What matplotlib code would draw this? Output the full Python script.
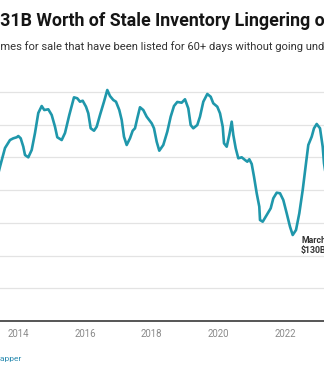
import matplotlib
matplotlib.use("Agg")
import matplotlib.pyplot as plt

# ---- data ----
years = [2013.35, 2013.451, 2013.601, 2013.751, 2013.850, 2013.952, 2014.000, 2014.072, 2014.150,
         2014.201, 2014.300, 2014.402, 2014.501, 2014.600, 2014.702, 2014.780, 2014.900,
         2015.002, 2015.101, 2015.170, 2015.302, 2015.401, 2015.530, 2015.671, 2015.770,
         2015.851, 2015.932, 2016.031, 2016.100, 2016.172, 2016.271, 2016.352, 2016.451,
         2016.571, 2016.670, 2016.751, 2016.850, 2016.931, 2017.030, 2017.102, 2017.171,
         2017.252, 2017.351, 2017.432, 2017.501, 2017.570, 2017.651, 2017.750, 2017.852,
         2018.002, 2018.071, 2018.152, 2018.230, 2018.350, 2018.470, 2018.572, 2018.671,
         2018.770, 2018.902, 2019.001, 2019.100, 2019.172, 2019.250, 2019.370, 2019.451,
         2019.551, 2019.671, 2019.772, 2019.850, 2019.970, 2020.052, 2020.133, 2020.172,
         2020.253, 2020.331, 2020.403, 2020.451, 2020.523, 2020.601, 2020.703, 2020.802,
         2020.871, 2020.931, 2021.003, 2021.072, 2021.153, 2021.231, 2021.252, 2021.333,
         2021.453, 2021.573, 2021.651, 2021.753, 2021.852, 2021.951, 2022.053, 2022.152,
         2022.233, 2022.332, 2022.431, 2022.533, 2022.632, 2022.701, 2022.803, 2022.872,
         2022.953, 2023.052, 2023.133, 2023.172, 2023.25]
values = [215, 235.6, 264.1, 276.3, 278.9, 280.5, 282.4, 278.9, 266.1,
          253.4, 249.9, 261.1, 287.0, 317.6, 328.2, 322.1, 323.2,
          314.5, 296.6, 280.5, 276.3, 287.0, 314.5, 341.5, 340.0,
          334.8, 336.3, 327.2, 317.1, 294.2, 290.5, 296.6, 314.5,
          334.8, 352.7, 343.5, 337.4, 334.8, 322.1, 306.9, 281.4,
          268.7, 278.9, 290.5, 294.2, 309.5, 326.3, 322.1, 311.9,
          301.8, 294.2, 273.7, 260.0, 268.7, 289.0, 311.9, 328.2,
          334.4, 333.3, 338.5, 324.7, 299.2, 294.2, 299.2, 311.9,
          334.8, 346.6, 342.4, 332.4, 327.2, 317.1, 296.6, 271.3,
          266.1, 284.0, 304.3, 284.0, 263.7, 248.4, 249.9, 245.8,
          243.2, 246.9, 239.7, 220.3, 195.0, 174.5, 154.2, 151.6,
          161.8, 172.1, 187.3, 195.9, 195.0, 184.7, 164.4, 144.0,
          131.3, 138.9, 164.4, 200.0, 240.8, 268.7, 281.4, 294.2,
          300.8, 294.2, 266.1, 240.8, 215]
xtick_years = [2014, 2016, 2018, 2020, 2022]
xtick_labels = ["2014", "2016", "2018", "2020", "2022"]
grid_values = [50, 100, 150, 200, 250, 300, 350]
annot_x, annot_y = 2022.233, 131.3
annot_text = "March\n$130B"

title = "$331B Worth of Stale Inventory Lingering on the Market"
title_hidden = "$3"
subtitle = ("Homes for sale that have been listed for 60+ days without going under contract,\n"
            "($)")
subtitle_hidden = "Ho"
source = "Source: Redfin \u2022 Created with Datawrapper"
source_visible = "apper"

# ---- figure ----
W, H, DPI = 324, 370, 100
fig = plt.figure(figsize=(W / DPI, H / DPI), dpi=DPI)
plt.rcParams['font.family'] = ['Roboto', 'DejaVu Sans']

base_y = 321.0
top_y = 75.0
px_per_unit = 0.655
ax = fig.add_axes([0, (H - base_y) / H, 1, (base_y - top_y) / H])
ax.set_xlim(2013.451, 2023.172)
ax.set_ylim(0, (base_y - top_y) / px_per_unit)
for s in ax.spines.values():
    s.set_visible(False)
for g in grid_values:
    ax.axhline(g, color="#e3e3e3", lw=0.9, zorder=1)
ax.axhline(0, color="#555555", lw=1.4, zorder=2, clip_on=False)
ax.plot(years, values, color="#1f97ab", lw=1.9, zorder=3, solid_joinstyle="round")
ax.set_yticks([])
ax.set_xticks(xtick_years)
ax.set_xticklabels(xtick_labels, fontsize=6.9, color="#8a8a8a")
ax.tick_params(axis="x", length=0, pad=5.5)

ax.annotate(annot_text, xy=(annot_x, annot_y), xytext=(6, -1), textcoords="offset points",
            fontsize=6.3, fontweight="bold", color="#333333", va="top", ha="left",
            linespacing=1.15)

renderer = fig.canvas.get_renderer()

def hidden_width(s, **kw):
    t = fig.text(0, 0, s, **kw)
    w = t.get_window_extent(renderer).width
    t.remove()
    return w

tkw = dict(fontsize=12.8, fontweight="bold", color="#151515")
wt = hidden_width(title_hidden, **tkw)
fig.text(-wt / W, 1 - 26.0 / H, title, va="baseline", ha="left", **tkw)

skw = dict(fontsize=8.15, color="#333333")
ws = hidden_width(subtitle_hidden, **skw)
fig.text(-ws / W, 1 - 49.5 / H, subtitle.split("\n")[0], va="baseline", ha="left", **skw)
fig.text(-ws / W, 1 - 69.0 / H, subtitle.split("\n")[1], va="baseline", ha="left", **skw)

ckw = dict(fontsize=6.0, color="#2a8bb0")
wc = hidden_width(source[:-len(source_visible)], **ckw)
fig.text(-wc / W, 1 - 361.0 / H, source, va="baseline", ha="left", **ckw)

fig.savefig("out.png", dpi=DPI)
